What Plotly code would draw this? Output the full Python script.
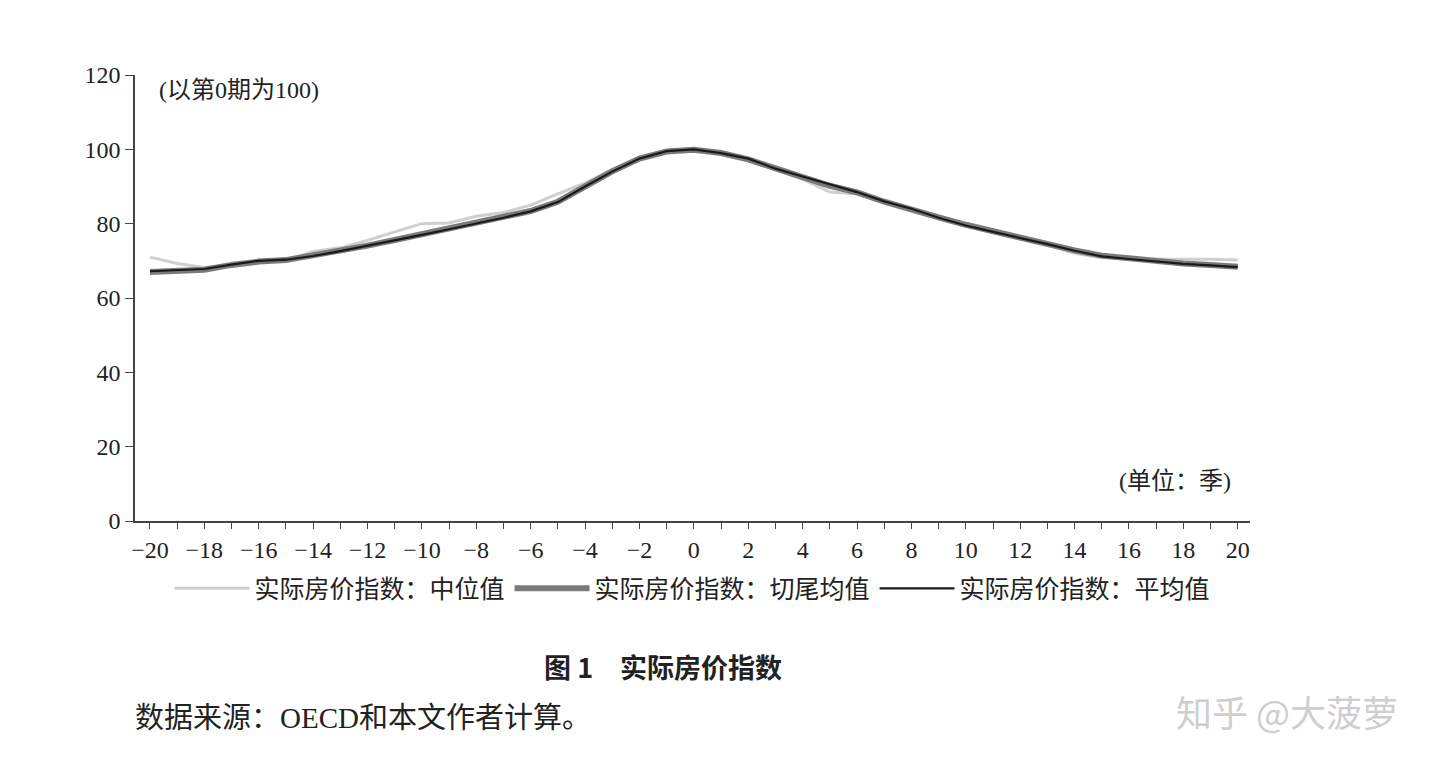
import plotly.graph_objects as go

periods = list(range(-20, 21))
median = [71, 69.3, 68.2, 69, 69.6, 70, 72.5, 73.5, 75.5, 77.8, 80, 80.2, 82, 83, 85, 88, 91, 94.5, 97.8, 99.5, 99.8,
          98.7, 97, 94.5, 92, 88.5, 88, 86, 84, 81.8, 80, 78, 76.2, 74.3, 72, 70.8, 70.5, 70.5, 70.4, 70.4, 70.2]
trimmed = [67.0, 67.4, 67.6, 68.9, 69.8, 70.2, 71.4, 72.7, 74.1, 75.6, 77.1, 78.7, 80.1, 81.7, 83.4, 85.9, 90.2, 94.1, 97.5, 99.4, 99.9,
           99.0, 97.3, 94.7, 92.5, 90.2, 88.4, 85.9, 84.0, 81.7, 79.7, 77.9, 76.2, 74.5, 72.8, 71.4, 70.6, 69.9, 69.3, 68.9, 68.4]
mean = [67.2, 67.5, 67.8, 69, 70, 70.3, 71.3, 72.6, 74, 75.5, 77, 78.5, 80, 81.6, 83.3, 85.8, 90, 94, 97.5, 99.5, 100,
        99, 97.5, 94.8, 92.7, 90.5, 88.5, 86, 84, 81.6, 79.5, 77.8, 76.2, 74.5, 72.7, 71.2, 70.5, 69.8, 69.2, 68.8, 68.3]
names = ["实际房价指数：中位值", "实际房价指数：切尾均值", "实际房价指数：平均值"]

serif = "Liberation Serif, Noto Sans CJK SC"
fig = go.Figure()
fig.add_trace(go.Scatter(x=periods, y=median, name=names[0], mode="lines", line=dict(color="#cfcfcf", width=3)))
fig.add_trace(go.Scatter(x=periods, y=trimmed, name=names[1], mode="lines", line=dict(color="#7a7a7a", width=6)))
fig.add_trace(go.Scatter(x=periods, y=mean, name=names[2], mode="lines", line=dict(color="#1a1a1a", width=2.2)))

ticktext = [("−" + str(-p) if p < 0 else str(p)) if p % 2 == 0 else "" for p in periods]
W, H = 1115, 446
X0, Y0 = 135, 521
def px(x): return (x - X0) / W
def py(y): return (Y0 - y) / H

fig.update_layout(
    width=1440, height=773, plot_bgcolor="white", paper_bgcolor="white",
    margin=dict(l=127, r=198, t=67, b=260),
    font=dict(family=serif, size=24, color="#222"),
    xaxis=dict(range=[-20.55, 20.45], tickvals=periods, ticktext=ticktext, ticks="outside", ticklen=6,
               showline=True, linecolor="#444", linewidth=1.5, showgrid=False, zeroline=False,
               tickfont=dict(size=24, family=serif)),
    yaxis=dict(range=[0, 120], dtick=20, ticks="outside", ticklen=8, showline=True, linecolor="#444",
               linewidth=1.5, showgrid=False, zeroline=False, tickfont=dict(size=24, family=serif)),
    legend=dict(orientation="h", x=0.5, xanchor="center", y=-0.1, yanchor="top",
                font=dict(size=25, family=serif), itemwidth=75, tracegroupgap=0),
    showlegend=True,
)
fig.add_annotation(x=0.02, y=1.0, xref="paper", yref="paper", text="(以第0期为100)", showarrow=False,
                   xanchor="left", yanchor="top", font=dict(size=24))
fig.add_annotation(x=0.985, y=0.055, xref="paper", yref="paper", text="(单位：季)", showarrow=False,
                   xanchor="right", yanchor="bottom", font=dict(size=24))
fig.add_annotation(x=px(663), y=py(688), xref="paper", yref="paper", text="<b>图 1　实际房价指数</b>", showarrow=False,
                   font=dict(size=27, family="Noto Sans CJK SC"))
fig.add_annotation(x=px(133), y=py(736), xref="paper", yref="paper",
                   text="数据来源：OECD和本文作者计算。", showarrow=False, xanchor="left", font=dict(size=29))
fig.add_annotation(x=px(1400), y=py(739), xref="paper", yref="paper",
                   text="知乎 @大菠萝", showarrow=False, xanchor="right",
                   font=dict(size=36, color="rgba(200,200,200,0.9)", family="Noto Sans CJK SC"))
fig.write_html("out.html")
